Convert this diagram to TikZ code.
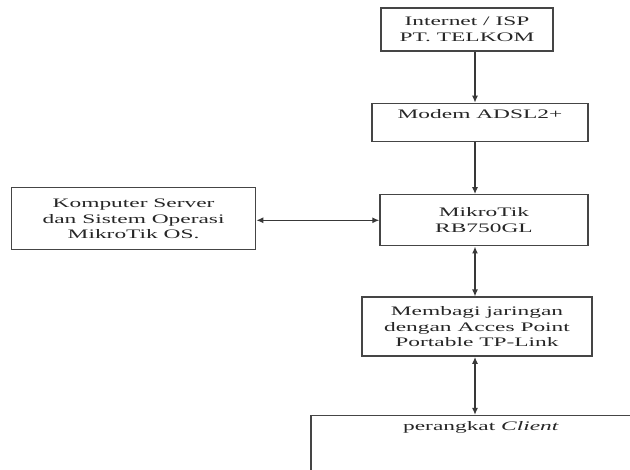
\documentclass[tikz,border=0pt]{standalone}
\usepackage{fontspec}
\setmainfont{Liberation Serif}[FakeStretch=1.8]
\usepackage{tikz}
\usetikzlibrary{arrows.meta, positioning}
\definecolor{boxgray}{HTML}{454545}
\definecolor{linegray}{HTML}{383838}
\definecolor{textgray}{HTML}{262626}
\tikzset{
    % boxes of the network chart
    netbox/.style = {rectangle, draw=boxgray, line width=1.4pt, align=center, inner sep=0pt, text=textgray, font=\fontsize{13pt}{15.5pt}\selectfont},
    arrow/.style = {->, draw=linegray, line width=1.3pt, >={Latex[length=7pt,width=6pt]}},
    dblarrow/.style = {<->, draw=linegray, line width=1.3pt, >={Latex[length=7pt,width=6pt]}}
}

\begin{document}
\begin{tikzpicture}[node distance=50pt and 123pt]
\useasboundingbox (0,0) rectangle (630pt,-470pt);
\clip (0,0) rectangle (630pt,-470pt);

\coordinate (axis) at (475pt,0);

\node[netbox, minimum width=172pt, minimum height=43pt] (internet) at (467pt,-29.5pt) {Internet / ISP\\PT. TELKOM};
\node[netbox, below=51pt of internet, xshift=13pt, minimum width=216pt, text height=15pt, text depth=23pt] (modem) {Modem ADSL2+};
\node[netbox, below=52pt of modem, xshift=4pt, minimum width=208pt, minimum height=51pt] (mikrotik) {MikroTik\\RB750GL};
\node[netbox, below=of mikrotik, xshift=-7pt, minimum width=230pt, minimum height=59pt] (membagi) {Membagi jaringan\\dengan Acces Point\\Portable TP-Link};
\node[netbox, below=58pt of membagi, xshift=4pt, minimum width=340pt, text height=15pt, text depth=85pt] (client) {perangkat \textit{Client}};
\node[netbox, left=of mikrotik, yshift=1.5pt, minimum width=244pt, minimum height=62pt] (server) {Komputer Server\\dan Sistem Operasi\\MikroTik OS.};

\draw[arrow] (internet.south -| axis) -- (modem.north -| axis);
\draw[arrow] (modem.south -| axis) -- (mikrotik.north -| axis);
\draw[dblarrow] (mikrotik.south -| axis) -- (membagi.north -| axis);
\draw[dblarrow] (membagi.south -| axis) -- (client.north -| axis);
\draw[dblarrow] (mikrotik.west) -- (mikrotik.west -| server.east);

\end{tikzpicture}
\end{document}
